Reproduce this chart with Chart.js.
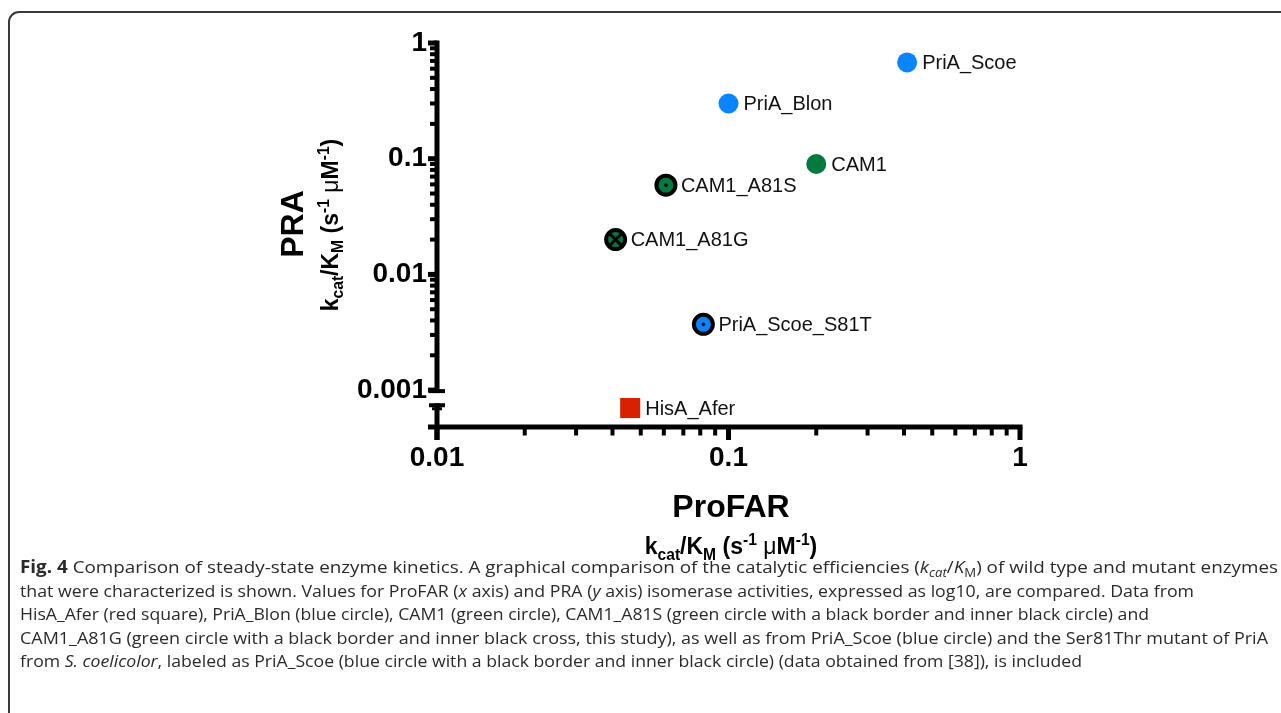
<!DOCTYPE html>
<html lang="en">
<head>
    <meta charset="UTF-8">
    <title>Fig. 4</title>
    <script src="https://cdn.jsdelivr.net/npm/chart.js"></script>
    <style>
        html, body {
            margin: 0;
            width: 1281px;
            height: 713px;
            overflow: hidden;
            background: #fff;
        }

        #frame {
            position: absolute;
            left: 8px;
            top: 11px;
            width: 1320px;
            height: 760px;
            border: 2px solid #3a3a3a;
            border-radius: 11px;
        }

        #chart {
            position: absolute;
            left: 0;
            top: 0;
        }

        .title {
            position: absolute;
            font-family: "Liberation Sans", Arial, sans-serif;
            font-weight: bold;
            color: #000;
            text-align: center;
            white-space: nowrap;
            line-height: 1;
        }

        .title sub, .title sup {
            font-size: 0.68em;
            line-height: 0;
        }

        .title .mu {
            font-weight: normal;
        }

        .rot {
            transform: translate(-50%, -50%) rotate(-90deg);
        }

        #caption {
            position: absolute;
            left: 20px;
            top: 555px;
            font-family: "Open Sans", sans-serif;
            font-size: 17px;
            color: #2a2a2a;
            line-height: 23.5px;
        }

        #caption .line {
            display: block;
            white-space: nowrap;
            width: max-content;
            transform-origin: left center;
        }

        #caption sub {
            font-size: 0.7em;
            line-height: 0;
        }
    </style>
</head>
<body>
    <div id="frame"></div>
    <canvas id="chart" width="1281" height="560"></canvas>

    <div class="title" style="left:531px; top:490px; width:400px; font-size:32px;">ProFAR</div>
    <div class="title" style="left:531px; top:535px; width:400px; font-size:23px;">k<sub>cat</sub>/K<sub>M</sub> (s<sup>-1</sup> <span class="mu">μ</span>M<sup>-1</sup>)</div>
    <div class="title rot" style="left:292px; top:224px; font-size:32px;">PRA</div>
    <div class="title rot" style="left:330px; top:225px; font-size:23px;">k<sub>cat</sub>/K<sub>M</sub> (s<sup>-1</sup> <span class="mu">μ</span>M<sup>-1</sup>)</div>

    <div id="caption">
        <span class="line" data-w="1258"><b>Fig. 4</b> Comparison of steady-state enzyme kinetics. A graphical comparison of the catalytic efficiencies (<i>k<sub>cat</sub></i>/<i>K</i><sub>M</sub>) of wild type and mutant enzymes</span>
        <span class="line" data-w="1174">that were characterized is shown. Values for ProFAR (<i>x</i> axis) and PRA (<i>y</i> axis) isomerase activities, expressed as log10, are compared. Data from</span>
        <span class="line" data-w="1129">HisA_Afer (red square), PriA_Blon (blue circle), CAM1 (green circle), CAM1_A81S (green circle with a black border and inner black circle) and</span>
        <span class="line" data-w="1248">CAM1_A81G (green circle with a black border and inner black cross, this study), as well as from PriA_Scoe (blue circle) and the Ser81Thr mutant of PriA</span>
        <span class="line" data-w="1062">from <i>S. coelicolor</i>, labeled as PriA_Scoe (blue circle with a black border and inner black circle) (data obtained from [38]), is included</span>
    </div>

    <script>
        // values (kcat/KM, s^-1 uM^-1)
        const enzymes = ['PriA_Scoe', 'PriA_Blon', 'CAM1', 'CAM1_A81S', 'CAM1_A81G', 'PriA_Scoe_S81T', 'HisA_Afer'];
        const profar = [0.41, 0.10, 0.20, 0.061, 0.041, 0.082, 0.046];
        const pra = [0.68, 0.30, 0.090, 0.059, 0.020, 0.0037, 0.0007];

        const xTickLabels = [0.01, 0.1, 1];
        const yTickLabels = [0.001, 0.01, 0.1, 1];

        // marker look per enzyme
        const markerKind = ['plain', 'plain', 'plain', 'dot', 'cross', 'dot', 'square'];
        const markerColor = ['#0a84ff', '#0a84ff', '#007a3f', '#007a3f', '#007a3f', '#0a84ff', '#d92100'];

        const xMin = 0.01, xMax = 1;
        const yMin = 0.00048, yMax = 1;
        const yBreakTop = 0.001, yBreakBottom = 0.00077;

        // decade marks plus 2..9 minor marks inside [lo, hi]
        function logMarks(lo, hi) {
            const marks = [];
            for (let e = Math.floor(Math.log10(lo)); e <= Math.ceil(Math.log10(hi)); e++) {
                for (let k = 1; k <= 9; k++) {
                    const v = k * Math.pow(10, e);
                    if (v >= lo * 0.999 && v <= hi * 1.001) marks.push({ value: v, major: k === 1 });
                }
            }
            return marks;
        }

        function inList(v, list) {
            return list.some(t => Math.abs(Math.log10(t) - Math.log10(v)) < 1e-6);
        }

        // axes with a break on y, drawn with the chart's own scales
        const brokenAxes = {
            id: 'brokenAxes',
            beforeDatasetsDraw(chart) {
                const ctx = chart.ctx;
                const xs = chart.scales.x, ys = chart.scales.y;
                const ax = xs.getPixelForValue(xMin);
                const ay = ys.getPixelForValue(yMin);
                const top = ys.getPixelForValue(yMax);
                const yb1 = ys.getPixelForValue(yBreakTop);
                const yb2 = ys.getPixelForValue(yBreakBottom);
                const right = xs.getPixelForValue(xMax);

                ctx.save();
                ctx.fillStyle = '#000';

                // y axis, upper piece
                ctx.fillRect(ax - 2.5, top - 2.5, 5, yb1 - top + 4);
                // y axis, lower piece
                ctx.fillRect(ax - 2.5, yb2, 5, ay - yb2 + 13);
                // break caps
                ctx.fillRect(ax - 8, yb1 - 1, 16, 4);
                ctx.fillRect(ax - 8, yb2, 16, 4);
                ctx.fillRect(ax - 5, yb2 + 4, 10, 3);

                // x axis
                ctx.fillRect(ax - 9, ay - 2.5, right - ax + 11.5, 5);

                // y ticks
                logMarks(yBreakTop, yMax).forEach(t => {
                    const py = ys.getPixelForValue(t.value);
                    if (t.major) {
                        ctx.fillRect(ax - 9, py - 2.5, 9, 5);
                    } else {
                        ctx.fillRect(ax - 7, py - 2, 7, 4);
                    }
                });

                // x ticks
                logMarks(xMin, xMax).forEach(t => {
                    const px = xs.getPixelForValue(t.value);
                    if (t.major) {
                        ctx.fillRect(px - 2.5, ay, 5, 13);
                    } else {
                        ctx.fillRect(px - 2, ay, 4, 8.5);
                    }
                });

                ctx.restore();
            },
            afterDatasetsDraw(chart) {
                const ctx = chart.ctx;
                const meta = chart.getDatasetMeta(0);
                ctx.save();
                meta.data.forEach((pt, i) => {
                    const kind = markerKind[i];
                    ctx.fillStyle = '#000';
                    ctx.strokeStyle = '#000';
                    if (kind === 'dot') {
                        ctx.beginPath();
                        ctx.arc(pt.x, pt.y, 1.8, 0, Math.PI * 2);
                        ctx.fill();
                    } else if (kind === 'cross') {
                        const d = 6.5;
                        ctx.lineWidth = 3;
                        ctx.beginPath();
                        ctx.moveTo(pt.x - d, pt.y - d);
                        ctx.lineTo(pt.x + d, pt.y + d);
                        ctx.moveTo(pt.x + d, pt.y - d);
                        ctx.lineTo(pt.x - d, pt.y + d);
                        ctx.stroke();
                    }
                    ctx.font = '20px "Liberation Sans", Arial, sans-serif';
                    ctx.fillStyle = '#111';
                    ctx.textBaseline = 'middle';
                    ctx.textAlign = 'left';
                    ctx.fillText(enzymes[i], pt.x + 15, pt.y + 1);
                });
                ctx.restore();
            }
        };

        const points = enzymes.map((name, i) => ({ x: profar[i], y: pra[i] }));

        new Chart(document.getElementById('chart'), {
            type: 'scatter',
            data: {
                datasets: [{
                    data: points,
                    pointStyle: c => markerKind[c.dataIndex] === 'square' ? 'rect' : 'circle',
                    pointRadius: c => {
                        const k = markerKind[c.dataIndex];
                        if (k === 'square') return 14.2;
                        if (k === 'plain') return 10;
                        return 9.5;
                    },
                    backgroundColor: c => markerColor[c.dataIndex],
                    borderColor: c => markerKind[c.dataIndex] === 'dot' || markerKind[c.dataIndex] === 'cross' ? '#000' : markerColor[c.dataIndex],
                    borderWidth: c => markerKind[c.dataIndex] === 'dot' || markerKind[c.dataIndex] === 'cross' ? 4 : 0
                }]
            },
            options: {
                responsive: false,
                animation: false,
                devicePixelRatio: 1,
                layout: { padding: { left: 0, top: 43, right: 261, bottom: 0 } },
                plugins: {
                    legend: { display: false },
                    tooltip: { enabled: false }
                },
                scales: {
                    x: {
                        type: 'logarithmic',
                        min: xMin,
                        max: xMax,
                        afterFit: s => { s.height = 133; },
                        grid: { display: false, drawTicks: false },
                        border: { display: false },
                        ticks: {
                            autoSkip: false,
                            maxRotation: 0,
                            padding: 14,
                            color: '#000',
                            font: { family: '"Liberation Sans", Arial, sans-serif', size: 28, weight: 'bold' },
                            callback: v => inList(v, xTickLabels) ? String(v) : ''
                        }
                    },
                    y: {
                        type: 'logarithmic',
                        min: yMin,
                        max: yMax,
                        afterFit: s => { s.width = 437; },
                        grid: { display: false, drawTicks: false },
                        border: { display: false },
                        ticks: {
                            autoSkip: false,
                            padding: 10,
                            color: '#000',
                            font: { family: '"Liberation Sans", Arial, sans-serif', size: 28, weight: 'bold' },
                            callback: v => inList(v, yTickLabels) ? String(v) : ''
                        }
                    }
                }
            },
            plugins: [brokenAxes]
        });

        // squeeze each caption line to the width it has in the figure
        document.querySelectorAll('#caption .line').forEach(el => {
            const w = el.getBoundingClientRect().width;
            el.style.transform = 'scaleX(' + (Number(el.dataset.w) / w) + ')';
        });
    </script>
</body>
</html>
